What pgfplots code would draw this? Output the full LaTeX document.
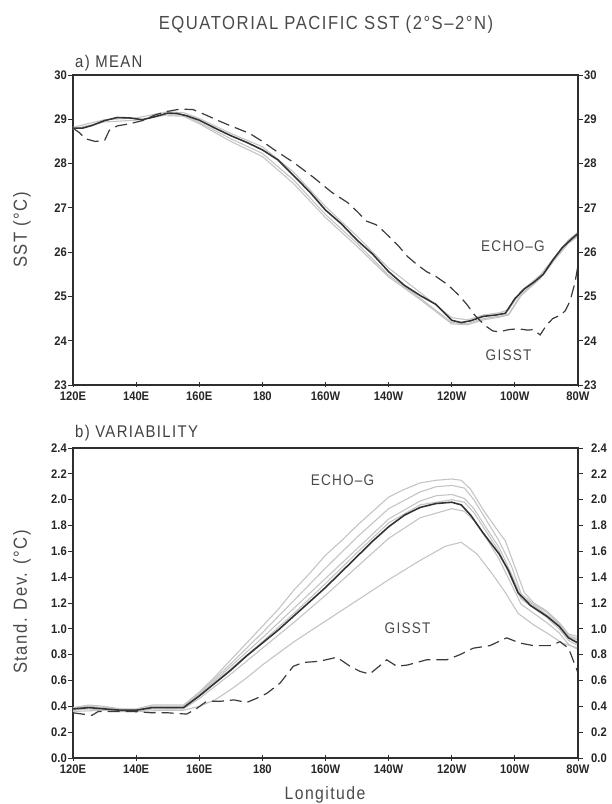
\documentclass[border=0pt]{standalone}
\usepackage{fontspec}
\setmainfont{Liberation Sans}
\newfontfamily\grads[FakeStretch=0.88,LetterSpace=8]{Liberation Sans}
\newfontfamily\tickfont[FakeStretch=0.9]{Liberation Sans}
\usepackage{pgfplots}
\pgfplotsset{compat=1.18}

\definecolor{axisgray}{HTML}{2E2E2E}
\definecolor{ensgray}{HTML}{C4C4C4}
\definecolor{lblgray}{HTML}{4A4A4A}
\definecolor{obsgray}{HTML}{3A3A3A}

\tikzset{lbl/.style={text=lblgray, font=\grads\fontsize{15.5}{15.5}\selectfont}}

\pgfplotsset{
  panel/.style={
    scale only axis, width=505bp, height=310bp,
    xmin=120, xmax=280,
    xtick={120,140,...,280},
    xticklabels={120E,140E,160E,180,160W,140W,120W,100W,80W},
    xtick pos=bottom, ytick pos=left,
    tick align=outside, major tick length=5bp,
    axis line style={axisgray, line width=1.1pt},
    every tick/.style={axisgray, line width=0.9pt},
    x tick style={yshift=2.5bp},
    /pgf/number format/assume math mode=true,
    ticklabel style={font=\tickfont\fontsize{12.5}{12.5}\selectfont\bfseries, text=black!85},
    yticklabel style={inner sep=1bp},
    xticklabel style={inner sep=1.5bp},
    clip=false,
  },
  rightaxis/.style={panel, axis y line*=right, hide x axis, ytick pos=right, yticklabel pos=right},
  ens/.style={ensgray, line width=1.1pt},
  echo/.style={black!80, line width=1.6pt},
  gisst/.style={obsgray, line width=1.2pt, dash pattern=on 12bp off 6bp},
}

\begin{document}
\begin{tikzpicture}
\path[use as bounding box] (0,0) rectangle (612bp,804bp);

% ---------- a) MEAN ----------
\begin{axis}[panel, at={(73bp,419bp)}, ymin=23, ymax=30, ytick={23,...,30}]
\addplot[ens] coordinates {
 (120,28.82) (130,28.99) (140,29.03) (150,29.17) (155,29.15) (160,29.02) (170,28.68)
 (180,28.38) (190,27.80) (200,27.03) (210,26.36) (220,25.64) (230,25.09) (240,24.52)
 (245,24.47) (250,24.58) (255,24.63) (258,24.70) (262,25.12) (268,25.48) (273,25.92)
 (277,26.28) (280,26.45)};
\addplot[ens] coordinates {
 (120,28.78) (130,28.94) (140,28.98) (150,29.10) (155,29.10) (160,28.93) (170,28.56)
 (180,28.23) (190,27.62) (200,26.85) (210,26.20) (220,25.48) (230,24.96) (240,24.41)
 (245,24.38) (250,24.50) (255,24.55) (258,24.60) (262,25.05) (268,25.42) (273,25.87)
 (277,26.22) (280,26.38)};
\addplot[ens] coordinates {
 (150,29.08) (155,29.07) (160,28.90) (170,28.50) (180,28.16) (190,27.54) (200,26.78)
 (210,26.13) (220,25.44) (230,24.93) (240,24.38) (245,24.36) (250,24.47) (255,24.53)
 (258,24.58) (262,25.02) (268,25.40) (273,25.86) (277,26.20) (280,26.36)};
\addplot[echo] coordinates {
 (120,28.80) (123,28.80) (126,28.86) (130,28.97) (134,29.04) (138,29.03) (142,28.99)
 (146,29.06) (150,29.14) (153,29.13) (156,29.08) (160,28.98) (165,28.80) (170,28.63)
 (175,28.48) (180,28.31) (185,28.08) (190,27.72) (195,27.36) (200,26.95) (205,26.64)
 (210,26.27) (215,25.95) (220,25.56) (225,25.25) (230,25.02) (235,24.82) (240,24.46)
 (243,24.41) (246,24.45) (250,24.55) (254,24.58) (257,24.62) (260,24.95) (263,25.17)
 (266,25.32) (269,25.50) (272,25.82) (275,26.10) (278,26.30) (280,26.42)};
\addplot[gisst] coordinates {
 (120,28.80) (122,28.70) (124,28.56) (127,28.50) (130,28.52) (131.5,28.75) (134,28.85)
 (138,28.90) (142,28.97) (146,29.10) (150,29.18) (154,29.23) (158,29.22) (162,29.10)
 (166,28.97) (170,28.85) (176,28.68) (180,28.50) (184,28.30) (190,28.02) (196,27.70)
 (202,27.35) (207,27.12) (210,26.92) (213,26.70) (216,26.62) (218,26.50) (220,26.36)
 (223,26.15) (226,25.90) (229,25.72) (232,25.56) (235,25.45) (238,25.30) (240,25.18)
 (242.6,25.00) (245,24.80) (247,24.60) (249,24.45) (251,24.32) (253,24.22) (255,24.20)
 (258,24.25) (261,24.27) (264,24.24) (266,24.25) (268,24.13) (270,24.35) (272,24.50)
 (274.5,24.58) (276,24.68) (277.5,24.90) (279,25.30) (280,25.70)};
\node[lbl] at (axis cs:259.4,26.14) {ECHO–G};
\node[lbl] at (axis cs:258.0,23.68) {GISST};
\end{axis}
\begin{axis}[rightaxis, at={(73bp,419bp)}, ymin=23, ymax=30, ytick={23,...,30}]
\addplot[draw=none] coordinates {(120,23) (280,30)};
\end{axis}

% ---------- b) VARIABILITY ----------
\begin{axis}[panel, at={(73bp,46bp)}, ymin=0, ymax=2.4, ytick={0,0.2,...,2.4},
  yticklabel style={/pgf/number format/.cd, fixed, fixed zerofill, precision=1}]
\addplot[ens] coordinates {
 (120,0.39) (125,0.41) (130,0.40) (135,0.38) (140,0.38) (145,0.41) (150,0.41) (155,0.41)
 (160,0.51) (165,0.63) (170,0.76) (175,0.89) (180,1.02) (185,1.15) (190,1.30) (195,1.43)
 (200,1.57) (205,1.68) (210,1.80) (215,1.91) (220,2.02) (225,2.08) (230,2.13) (235,2.15)
 (240,2.16) (243,2.15) (246,2.08) (250,1.92) (254,1.78) (257,1.68) (260,1.48) (263,1.28)
 (266,1.20) (270,1.14) (274,1.05) (277,0.96) (280,0.94)};
\addplot[ens] coordinates {
 (120,0.38) (125,0.40) (130,0.39) (135,0.37) (140,0.37) (145,0.40) (150,0.40) (155,0.40)
 (160,0.50) (170,0.73) (180,0.97) (190,1.22) (200,1.47) (210,1.71) (220,1.93) (230,2.06)
 (235,2.10) (240,2.11) (244,2.09) (247,2.00) (251,1.84) (255,1.68) (259,1.48) (262,1.27)
 (266,1.19) (270,1.13) (274,1.04) (277,0.95) (280,0.92)};
\addplot[ens] coordinates {
 (120,0.37) (125,0.39) (130,0.39) (135,0.38) (140,0.37) (145,0.39) (150,0.39) (155,0.40)
 (160,0.49) (170,0.71) (180,0.93) (190,1.16) (200,1.39) (210,1.62) (220,1.85) (230,1.99)
 (235,2.03) (240,2.04) (244,2.01) (247,1.93) (251,1.78) (255,1.63) (259,1.42) (262,1.25)
 (266,1.18) (270,1.11) (274,1.03) (277,0.94) (280,0.91)};
\addplot[ens] coordinates {
 (120,0.39) (125,0.40) (130,0.38) (135,0.36) (140,0.37) (145,0.38) (150,0.38) (155,0.39)
 (160,0.48) (170,0.69) (180,0.90) (190,1.12) (200,1.35) (210,1.59) (220,1.82) (230,1.96)
 (240,2.00) (244,1.98) (247,1.90) (251,1.75) (255,1.60) (259,1.38) (262,1.23) (266,1.16)
 (270,1.09) (274,1.00) (277,0.91) (280,0.87)};
\addplot[ens] coordinates {
 (120,0.37) (125,0.38) (130,0.37) (135,0.36) (140,0.36) (145,0.38) (150,0.38) (155,0.38)
 (160,0.46) (170,0.65) (180,0.85) (190,1.05) (200,1.26) (210,1.48) (220,1.70) (230,1.86)
 (240,1.93) (244,1.91) (247,1.84) (251,1.70) (255,1.54) (259,1.34) (262,1.19) (266,1.12)
 (270,1.05) (274,0.97) (277,0.88) (280,0.84)};
\addplot[ens] coordinates {
 (120,0.36) (130,0.37) (140,0.36) (150,0.37) (155,0.37) (160,0.40) (165,0.45) (170,0.53)
 (175,0.62) (180,0.72) (185,0.81) (190,0.90) (200,1.06) (210,1.22) (220,1.38) (230,1.53)
 (238,1.64) (243,1.67) (248,1.58) (253,1.42) (257,1.28) (261,1.12) (266,1.03) (270,0.97)
 (275,0.89) (280,0.85)};
\addplot[echo] coordinates {
 (120,0.38) (125,0.39) (130,0.38) (135,0.37) (140,0.37) (145,0.39) (150,0.39) (155,0.39)
 (160,0.48) (165,0.58) (170,0.68) (175,0.79) (180,0.89) (185,0.99) (190,1.10) (195,1.21)
 (200,1.32) (205,1.44) (210,1.56) (215,1.68) (220,1.79) (225,1.88) (230,1.94) (235,1.97)
 (240,1.98) (243,1.96) (246,1.88) (250,1.74) (255,1.58) (258,1.45) (261,1.28) (265,1.18)
 (270,1.10) (274,1.02) (277,0.93) (280,0.89)};
\addplot[gisst] coordinates {
 (120,0.35) (123,0.34) (126,0.33) (128,0.36) (132,0.36) (139,0.36) (145,0.35) (150,0.35)
 (156,0.34) (159,0.38) (162.4,0.44) (167,0.44) (171,0.45) (175,0.43) (178,0.46)
 (181.4,0.50) (185.6,0.58) (189.8,0.71) (193,0.74) (196.2,0.745) (198.3,0.75)
 (203.6,0.78) (207.8,0.71) (211,0.67) (214,0.65) (217,0.71) (219.4,0.76) (222.6,0.71)
 (226,0.72) (232,0.76) (238.4,0.76) (242.6,0.80) (246.8,0.85) (252.1,0.87) (257.4,0.93)
 (261.6,0.89) (265.9,0.87) (271.1,0.87) (274.3,0.90) (277,0.85) (280,0.66)};
\node[lbl] at (axis cs:205.4,2.15) {ECHO–G};
\node[lbl] at (axis cs:226.0,1.006) {GISST};
\end{axis}
\begin{axis}[rightaxis, at={(73bp,46bp)}, ymin=0, ymax=2.4, ytick={0,0.2,...,2.4},
  yticklabel style={xshift=7bp, /pgf/number format/.cd, fixed, fixed zerofill, precision=1}]
\addplot[draw=none] coordinates {(120,0) (280,2.4)};
\end{axis}

% ---------- titles and labels ----------
\node[text=lblgray, font=\grads\fontsize{19}{19}\selectfont] at (326bp,779bp)
  {EQUATORIAL PACIFIC SST (2°S–2°N)};
\node[anchor=west, text=black!75, font=\grads\fontsize{17}{17}\selectfont, inner sep=0pt]
  at (75bp,741bp) {a) MEAN};
\node[anchor=west, text=black!75, font=\grads\fontsize{17}{17}\selectfont, inner sep=0pt]
  at (75bp,371bp) {b) VARIABILITY};
\node[rotate=90, text=lblgray, font=\grads\fontsize{19}{19}\selectfont] at (22bp,574bp)
  {SST (°C)};
\node[rotate=90, text=lblgray, font=\grads\fontsize{19}{19}\selectfont] at (22bp,202bp)
  {Stand. Dev. (°C)};
\node[anchor=base, inner sep=0pt, text=lblgray, font=\grads\fontsize{18}{18}\selectfont]
  at (325bp,5bp) {Longitude};
\end{tikzpicture}
\end{document}
